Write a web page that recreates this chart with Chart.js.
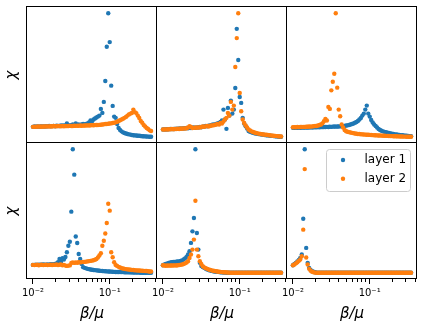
<!DOCTYPE html>
<html>
<head>
<meta charset="utf-8">
<script src="https://cdn.jsdelivr.net/npm/chart.js@4.4.1/dist/chart.umd.min.js"></script>
<style>
  html, body { margin: 0; padding: 0; background: #fff; }
  #fig { position: relative; width: 424px; height: 329px; }
  #fig canvas { position: absolute; left: 0; top: 0; }
</style>
</head>
<body>
<div id="fig">
  <canvas id="p0" width="424" height="329"></canvas>
  <canvas id="p1" width="424" height="329"></canvas>
  <canvas id="p2" width="424" height="329"></canvas>
  <canvas id="p3" width="424" height="329"></canvas>
  <canvas id="p4" width="424" height="329"></canvas>
  <canvas id="p5" width="424" height="329"></canvas>
</div>
<script>
// beta/mu grid shared by every panel
const beta = [
  0.01, 0.010453, 0.010927, 0.011422, 0.01194, 0.012481, 0.013047, 0.013638, 0.014256, 0.014902,
  0.015578, 0.016284, 0.017022, 0.017794, 0.0186, 0.019442, 0.020323, 0.021245, 0.022208, 0.023214,
  0.024266, 0.025366, 0.026516, 0.027718, 0.028973, 0.030286, 0.031659, 0.033094, 0.034594, 0.036162,
  0.037801, 0.039514, 0.041305, 0.043177, 0.045134, 0.04718, 0.049317, 0.051552, 0.053889, 0.056331,
  0.058884, 0.061553, 0.064342, 0.067258, 0.070307, 0.073493, 0.076824, 0.080306, 0.083946, 0.08775,
  0.091727, 0.095884, 0.10023, 0.10477, 0.10952, 0.11448, 0.11967, 0.12509, 0.13076, 0.13668,
  0.14289, 0.14936, 0.15613, 0.16321, 0.17061, 0.17834, 0.18642, 0.19487, 0.2037, 0.21293,
  0.22258, 0.23267, 0.24322, 0.25424, 0.26576, 0.2778, 0.2904, 0.30355, 0.31731, 0.33169, 0.34674
];

const seriesNames = ['layer 1', 'layer 2'];
const tickValues = [0.01, 0.02, 0.03, 0.04, 0.05, 0.06, 0.07, 0.08, 0.09, 0.1, 0.2, 0.3, 0.4];
const tickLabels = { 0.01: '10\u207B\u00B2', 0.1: '10\u207B\u00B9' };

// chi, one array per panel and layer (arbitrary units)
const chiA1 = [
  1.27,1.3,1.28,1.3,1.29,1.31,1.3,1.32,1.3,1.33,
  1.32,1.35,1.33,1.34,1.37,1.33,1.38,1.36,1.35,1.4,
  1.38,1.41,1.39,1.6,1.42,1.4,1.43,1.5,1.44,1.62,
  1.47,1.5,1.46,1.52,1.55,1.5,1.55,1.6,1.7,1.9,
  1.8,2.0,2.1,2.2,2.3,2.4,3.07,2.67,3.77,5.87,
  9.3,12.67,9.77,5.4,3.37,2.3,2.17,1.55,1.15,0.95,
  0.82,0.72,0.66,0.6,0.56,0.52,0.49,0.45,0.43,0.41,
  0.4,0.38,0.37,0.35,0.33,0.32,0.31,0.3,0.29,0.28,
  0.27
];
const chiA2 = [
  1.27,1.28,1.27,1.3,1.29,1.3,1.28,1.31,1.3,1.3,
  1.32,1.31,1.33,1.3,1.36,1.32,1.33,1.35,1.34,1.33,
  1.35,1.33,1.36,1.34,1.35,1.37,1.36,1.35,1.38,1.37,
  1.38,1.37,1.4,1.38,1.39,1.4,1.4,1.42,1.41,1.43,
  1.44,1.43,1.45,1.46,1.45,1.47,1.48,1.5,1.52,1.55,
  1.55,1.58,1.6,1.62,1.65,1.68,1.72,1.78,1.85,1.93,
  2.0,2.08,2.17,2.27,2.4,2.52,2.6,2.66,3.0,2.75,
  2.65,2.4,2.15,1.85,1.68,1.45,1.3,1.15,1.05,0.92,
  0.85
];
const chiB1 = [
  1.0,1.02,1.0,1.03,1.02,1.05,1.04,1.06,1.05,1.08,
  1.07,1.1,1.08,1.12,1.1,1.13,1.15,1.12,1.17,1.15,
  1.18,1.2,1.17,1.22,1.2,1.25,1.23,1.28,1.3,1.35,
  1.33,1.38,1.4,1.45,1.5,1.48,1.55,1.6,1.65,1.75,
  1.9,3.0,2.0,1.07,3.17,2.4,3.9,2.6,3.0,5.17,
  11.1,7.97,4.27,3.67,2.17,1.6,1.33,1.1,0.85,0.78,
  0.72,0.67,0.63,0.6,0.57,0.54,0.52,0.49,0.47,0.45,
  0.43,0.41,0.39,0.37,0.36,0.34,0.33,0.31,0.3,0.28,
  0.27
];
const chiB2 = [
  1.0,1.0,1.02,1.01,1.03,1.02,1.05,1.03,1.06,1.05,
  1.08,1.06,1.1,1.08,1.12,1.1,1.13,1.2,1.33,1.25,
  1.15,1.17,1.2,1.18,1.22,1.2,1.25,1.3,1.28,1.32,
  1.35,1.3,1.38,1.4,1.42,1.45,1.5,1.55,1.5,1.67,
  1.6,1.8,2.0,2.17,2.67,2.4,3.77,3.0,3.4,7.27,
  10.17,12.67,4.67,2.83,2.0,1.65,1.4,1.2,1.0,0.9,
  0.82,0.76,0.7,0.66,0.62,0.59,0.56,0.53,0.51,0.49,
  0.47,0.45,0.43,0.41,0.39,0.37,0.36,0.34,0.32,0.31,
  0.3
];
const chiC1 = [
  1.17,1.18,1.17,1.18,1.19,1.18,1.2,1.19,1.2,1.2,
  1.21,1.2,1.22,1.21,1.22,1.23,1.22,1.24,1.23,1.25,
  1.24,1.26,1.25,1.27,1.26,1.28,1.27,1.29,1.3,1.29,
  1.31,1.3,1.32,1.33,1.34,1.36,1.4,1.42,1.45,1.5,
  1.55,1.6,1.68,1.75,1.85,2.0,2.15,2.4,2.6,3.0,
  3.4,2.6,2.3,1.95,1.7,1.5,1.35,1.2,1.05,0.95,
  0.88,0.82,0.77,0.73,0.69,0.65,0.62,0.59,0.55,0.52,
  0.5,0.48,0.46,0.44,0.42,0.4,0.38,0.37,0.35,0.34,
  0.33
];
const chiC2 = [
  1.23,1.24,1.23,1.25,1.24,1.26,1.25,1.27,1.26,1.28,
  1.28,1.3,1.29,1.32,1.33,1.35,1.36,1.4,1.45,1.5,
  1.62,1.83,2.07,1.9,3.27,3.07,4.93,5.8,6.6,12.67,
  5.2,3.0,2.33,1.5,1.2,0.95,0.83,0.78,0.74,0.7,
  0.67,0.64,0.6,0.58,0.56,0.55,0.53,0.52,0.5,0.49,
  0.48,0.47,0.46,0.45,0.44,0.43,0.42,0.41,0.4,0.4,
  0.39,0.38,0.37,0.36,0.36,0.35,0.34,0.34,0.33,0.32,
  0.32,0.31,0.31,0.3,0.3,0.29,0.29,0.28,0.28,0.27,
  0.27
];
const chiD1 = [
  1.0,1.0,1.02,1.0,1.03,1.01,1.02,1.04,1.02,1.03,
  1.05,1.03,1.06,1.05,1.08,1.1,1.15,1.27,1.6,1.3,
  1.67,1.55,1.8,2.27,2.93,3.33,6.37,12.67,10.1,3.87,
  3.2,2.1,1.6,1.1,0.77,0.7,0.65,0.6,0.57,0.54,
  0.51,0.49,0.47,0.45,0.43,0.41,0.4,0.38,0.37,0.36,
  0.35,0.34,0.33,0.32,0.31,0.3,0.29,0.29,0.28,0.28,
  0.27,0.27,0.26,0.26,0.25,0.25,0.24,0.24,0.23,0.23,
  0.22,0.22,0.22,0.21,0.21,0.21,0.2,0.2,0.2,0.2,
  0.2
];
const chiD2 = [
  1.0,0.98,1.0,1.02,0.97,1.0,1.03,0.98,1.0,1.02,
  0.98,1.0,1.03,0.99,1.02,1.0,1.04,0.98,1.02,1.05,
  0.97,1.0,0.93,0.9,0.93,0.95,1.2,1.25,1.2,1.25,
  1.22,1.27,1.25,1.28,1.3,1.3,1.33,1.35,1.38,1.4,
  1.43,1.47,1.52,1.6,1.75,1.95,2.17,2.93,3.43,4.17,
  5.23,7.17,6.47,2.27,1.77,1.27,1.0,0.9,0.8,0.73,
  0.67,0.63,0.6,0.57,0.55,0.53,0.51,0.49,0.48,0.46,
  0.45,0.44,0.43,0.42,0.41,0.4,0.39,0.38,0.36,0.34,
  0.33
];
const chiE1 = [
  1.03,1.1,1.17,1.22,1.27,1.32,1.34,1.36,1.37,1.38,
  1.4,1.42,1.45,1.5,1.6,1.72,1.87,2.1,2.43,3.27,
  4.43,5.77,12.67,4.27,2.6,1.27,0.95,0.85,0.77,0.68,
  0.6,0.55,0.5,0.46,0.43,0.4,0.38,0.36,0.34,0.32,
  0.31,0.3,0.29,0.28,0.27,0.27,0.27,0.27,0.27,0.27,
  0.27,0.27,0.27,0.27,0.27,0.27,0.27,0.27,0.27,0.27,
  0.27,0.27,0.27,0.27,0.27,0.27,0.27,0.27,0.27,0.27,
  0.27,0.27,0.27,0.27,0.27,0.27,0.27,0.27,0.27,0.27,
  0.27
];
const chiE2 = [
  1.03,1.0,0.98,1.0,0.99,1.0,1.01,1.0,1.02,1.0,
  1.03,1.05,1.07,1.1,1.15,1.22,1.3,1.43,1.75,2.1,
  2.6,3.6,7.5,2.6,1.93,1.43,1.15,0.93,0.82,0.74,
  0.67,0.6,0.56,0.52,0.48,0.45,0.42,0.4,0.38,0.36,
  0.34,0.33,0.32,0.31,0.3,0.29,0.28,0.28,0.27,0.27,
  0.27,0.27,0.27,0.27,0.27,0.27,0.27,0.27,0.27,0.27,
  0.27,0.27,0.27,0.27,0.27,0.27,0.27,0.27,0.27,0.27,
  0.27,0.27,0.27,0.27,0.27,0.27,0.27,0.27,0.27,0.27,
  0.27
];
const chiF1 = [
  1.03,1.15,1.27,1.4,1.55,1.77,2.1,5.7,12.67,2.77,
  1.27,0.77,0.55,0.43,0.37,0.32,0.29,0.27,0.27,0.27,
  0.27,0.27,0.27,0.27,0.27,0.27,0.27,0.27,0.27,0.27,
  0.27,0.27,0.27,0.27,0.27,0.27,0.27,0.27,0.27,0.27,
  0.27,0.27,0.27,0.27,0.27,0.27,0.27,0.27,0.27,0.27,
  0.27,0.27,0.27,0.27,0.27,0.27,0.27,0.27,0.27,0.27,
  0.27,0.27,0.27,0.27,0.27,0.27,0.27,0.27,0.27,0.27,
  0.27,0.27,0.27,0.27,0.27,0.27,0.27,0.27,0.27,0.27,
  0.27
];
const chiF2 = [
  1.03,1.1,1.22,1.33,1.47,1.6,1.93,4.6,10.67,1.8,
  1.1,0.67,0.48,0.37,0.32,0.29,0.28,0.27,0.27,0.27,
  0.27,0.27,0.27,0.27,0.27,0.27,0.27,0.27,0.27,0.27,
  0.27,0.27,0.27,0.27,0.27,0.27,0.27,0.27,0.27,0.27,
  0.27,0.27,0.27,0.27,0.27,0.27,0.27,0.27,0.27,0.27,
  0.27,0.27,0.27,0.27,0.27,0.27,0.27,0.27,0.27,0.27,
  0.27,0.27,0.27,0.27,0.27,0.27,0.27,0.27,0.27,0.27,
  0.27,0.27,0.27,0.27,0.27,0.27,0.27,0.27,0.27,0.27,
  0.27
];

const colors = ['#1f77b4', '#ff7f0e'];
const FONT = "'DejaVu Sans', sans-serif";
const W = 424, H = 329;
const colLeft = [27, 157, 287], colRight = [157, 287, 417];
const rowTop = [7, 143], rowBottom = [143, 279];

// log x limits with a 5% margin, like matplotlib autoscale
const lmin = Math.log10(beta[0]), lmax = Math.log10(beta[beta.length - 1]);
const xMin = Math.pow(10, lmin - 0.05 * (lmax - lmin));
const xMax = Math.pow(10, lmax + 0.05 * (lmax - lmin));

const framePlugin = {
  id: 'frame',
  afterDatasetsDraw(chart) {
    const { ctx, chartArea: a } = chart;
    ctx.save();
    ctx.strokeStyle = '#000';
    ctx.lineWidth = 1;
    ctx.strokeRect(a.left - 0.5, a.top - 0.5, a.right - a.left, a.bottom - a.top);
    const xs = chart.scales.x;
    if (xs.options.display) {
      ctx.beginPath();
      tickValues.forEach(v => {
        const px = Math.round(xs.getPixelForValue(v)) - 0.5;
        if (px < a.left || px > a.right) return;
        const len = tickLabels[v] ? 5 : 3;
        ctx.moveTo(px, a.bottom);
        ctx.lineTo(px, a.bottom + len);
      });
      ctx.stroke();
    }
    ctx.restore();
  }
};

const legendPlugin = {
  id: 'boxLegend',
  afterDraw(chart) {
    const { ctx, chartArea: a } = chart;
    const bx = a.right - 90.5, by = a.top + 6.5, bw = 84, bh = 42;
    ctx.save();
    ctx.fillStyle = 'rgba(255,255,255,0.8)';
    ctx.strokeStyle = '#cccccc';
    ctx.lineWidth = 1;
    ctx.beginPath();
    ctx.roundRect(bx, by, bw, bh, 3);
    ctx.fill();
    ctx.stroke();
    ctx.font = '12px ' + FONT;
    ctx.textBaseline = 'middle';
    chart.data.datasets.forEach((ds, k) => {
      const cy = by + 10.5 + k * 18.8;
      ctx.fillStyle = ds.backgroundColor;
      ctx.beginPath();
      ctx.arc(bx + 16.5, cy, 2.2, 0, Math.PI * 2);
      ctx.fill();
      ctx.fillStyle = '#000';
      ctx.fillText(ds.label, bx + 38, cy);
    });
    ctx.restore();
  }
};

function makePanel(id, row, col, d1, d2) {
  const bottomRow = row === 1, leftCol = col === 0;
  const lo = Math.min(...d1, ...d2), hi = Math.max(...d1, ...d2);
  const pad = (hi - lo) * 0.05;
  const plugins = [framePlugin];
  if (row === 1 && col === 2) plugins.push(legendPlugin);
  return new Chart(document.getElementById(id), {
    type: 'scatter',
    data: {
      datasets: [
        { label: seriesNames[0], data: beta.map((b, i) => ({ x: b, y: d1[i] })),
          backgroundColor: colors[0], borderColor: colors[0], order: 1 },
        { label: seriesNames[1], data: beta.map((b, i) => ({ x: b, y: d2[i] })),
          backgroundColor: colors[1], borderColor: colors[1], order: 0 }
      ]
    },
    options: {
      responsive: false,
      animation: false,
      devicePixelRatio: 1,
      events: [],
      layout: {
        padding: {
          left: leftCol ? 0 : colLeft[col],
          right: W - colRight[col],
          top: rowTop[row],
          bottom: bottomRow ? 0 : H - rowBottom[row]
        }
      },
      elements: { point: { radius: 2.2, borderWidth: 0, hoverRadius: 2.2 } },
      plugins: { legend: { display: false }, tooltip: { enabled: false } },
      scales: {
        x: {
          type: 'logarithmic',
          min: xMin, max: xMax,
          display: bottomRow,
          grid: { display: false, drawTicks: false },
          border: { display: false },
          afterBuildTicks: s => { s.ticks = tickValues.map(v => ({ value: v })); },
          afterFit: s => { s.height = bottomRow ? H - rowBottom[1] : 0; },
          ticks: {
            autoSkip: false, maxRotation: 0, minRotation: 0, padding: 8,
            color: '#000', font: { family: FONT, size: 10 },
            callback: v => tickLabels[v] || ''
          },
          title: {
            display: true, text: 'β/μ', color: '#000',
            font: { family: FONT, size: 15, style: 'italic' },
            padding: { top: 0, bottom: 6 }
          }
        },
        y: {
          min: lo - pad, max: hi + pad,
          display: leftCol,
          grid: { display: false, drawTicks: false },
          border: { display: false },
          ticks: { display: false },
          afterFit: s => { s.width = leftCol ? colLeft[0] : 0; },
          title: {
            display: true, text: 'χ', color: '#000',
            font: { family: FONT, size: 15, style: 'italic' },
            padding: { top: 3, bottom: 0 }
          }
        }
      }
    },
    plugins: plugins
  });
}

makePanel('p0', 0, 0, chiA1, chiA2);
makePanel('p1', 0, 1, chiB1, chiB2);
makePanel('p2', 0, 2, chiC1, chiC2);
makePanel('p3', 1, 0, chiD1, chiD2);
makePanel('p4', 1, 1, chiE1, chiE2);
makePanel('p5', 1, 2, chiF1, chiF2);
</script>
</body>
</html>
